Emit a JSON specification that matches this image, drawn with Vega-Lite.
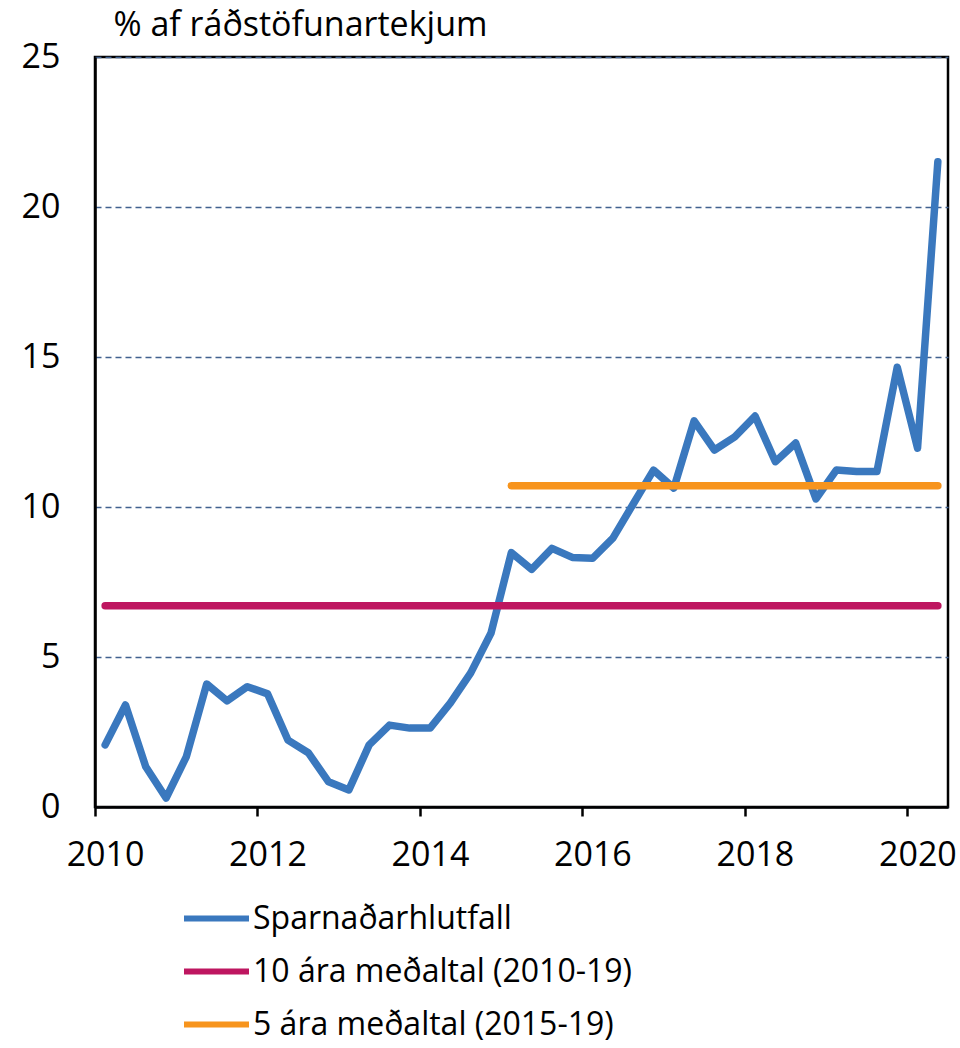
{
  "$schema": "https://vega.github.io/schema/vega-lite/v6.json",
  "width": 853,
  "height": 750,
  "autosize": {"type": "none"},
  "padding": {"left": 95, "top": 57, "right": 12, "bottom": 241},
  "background": "white",
  "config": {
    "view": {"stroke": "black", "strokeWidth": 2.5},
    "font": "Open Sans"
  },
  "data": {
    "values": [
      {"t": 2010.125, "value": 2.07, "series": "Sparnaðarhlutfall"},
      {"t": 2010.375, "value": 3.4, "series": "Sparnaðarhlutfall"},
      {"t": 2010.625, "value": 1.34, "series": "Sparnaðarhlutfall"},
      {"t": 2010.875, "value": 0.3, "series": "Sparnaðarhlutfall"},
      {"t": 2011.125, "value": 1.68, "series": "Sparnaðarhlutfall"},
      {"t": 2011.375, "value": 4.1, "series": "Sparnaðarhlutfall"},
      {"t": 2011.625, "value": 3.54, "series": "Sparnaðarhlutfall"},
      {"t": 2011.875, "value": 4.01, "series": "Sparnaðarhlutfall"},
      {"t": 2012.125, "value": 3.77, "series": "Sparnaðarhlutfall"},
      {"t": 2012.375, "value": 2.23, "series": "Sparnaðarhlutfall"},
      {"t": 2012.625, "value": 1.81, "series": "Sparnaðarhlutfall"},
      {"t": 2012.875, "value": 0.84, "series": "Sparnaðarhlutfall"},
      {"t": 2013.125, "value": 0.57, "series": "Sparnaðarhlutfall"},
      {"t": 2013.375, "value": 2.07, "series": "Sparnaðarhlutfall"},
      {"t": 2013.625, "value": 2.73, "series": "Sparnaðarhlutfall"},
      {"t": 2013.875, "value": 2.63, "series": "Sparnaðarhlutfall"},
      {"t": 2014.125, "value": 2.63, "series": "Sparnaðarhlutfall"},
      {"t": 2014.375, "value": 3.47, "series": "Sparnaðarhlutfall"},
      {"t": 2014.625, "value": 4.47, "series": "Sparnaðarhlutfall"},
      {"t": 2014.875, "value": 5.8, "series": "Sparnaðarhlutfall"},
      {"t": 2015.125, "value": 8.48, "series": "Sparnaðarhlutfall"},
      {"t": 2015.375, "value": 7.92, "series": "Sparnaðarhlutfall"},
      {"t": 2015.625, "value": 8.62, "series": "Sparnaðarhlutfall"},
      {"t": 2015.875, "value": 8.32, "series": "Sparnaðarhlutfall"},
      {"t": 2016.125, "value": 8.29, "series": "Sparnaðarhlutfall"},
      {"t": 2016.375, "value": 8.96, "series": "Sparnaðarhlutfall"},
      {"t": 2016.625, "value": 10.1, "series": "Sparnaðarhlutfall"},
      {"t": 2016.875, "value": 11.23, "series": "Sparnaðarhlutfall"},
      {"t": 2017.125, "value": 10.63, "series": "Sparnaðarhlutfall"},
      {"t": 2017.375, "value": 12.87, "series": "Sparnaðarhlutfall"},
      {"t": 2017.625, "value": 11.9, "series": "Sparnaðarhlutfall"},
      {"t": 2017.875, "value": 12.34, "series": "Sparnaðarhlutfall"},
      {"t": 2018.125, "value": 13.03, "series": "Sparnaðarhlutfall"},
      {"t": 2018.375, "value": 11.51, "series": "Sparnaðarhlutfall"},
      {"t": 2018.625, "value": 12.13, "series": "Sparnaðarhlutfall"},
      {"t": 2018.875, "value": 10.27, "series": "Sparnaðarhlutfall"},
      {"t": 2019.125, "value": 11.23, "series": "Sparnaðarhlutfall"},
      {"t": 2019.375, "value": 11.18, "series": "Sparnaðarhlutfall"},
      {"t": 2019.625, "value": 11.18, "series": "Sparnaðarhlutfall"},
      {"t": 2019.875, "value": 14.66, "series": "Sparnaðarhlutfall"},
      {"t": 2020.125, "value": 11.96, "series": "Sparnaðarhlutfall"},
      {"t": 2020.375, "value": 21.51, "series": "Sparnaðarhlutfall"},
      {"t": 2010.125, "value": 6.71, "series": "10 ára meðaltal (2010-19)"},
      {"t": 2020.375, "value": 6.71, "series": "10 ára meðaltal (2010-19)"},
      {"t": 2015.125, "value": 10.71, "series": "5 ára meðaltal (2015-19)"},
      {"t": 2020.375, "value": 10.71, "series": "5 ára meðaltal (2015-19)"}
    ]
  },
  "mark": {"type": "line", "strokeWidth": 7.5, "strokeCap": "round", "strokeJoin": "round"},
  "encoding": {
    "x": {
      "field": "t",
      "type": "quantitative",
      "scale": {"domain": [2010, 2020.5], "nice": false, "zero": false},
      "axis": {
        "title": null,
        "values": [2010, 2012, 2014, 2016, 2018, 2020],
        "format": "d",
        "grid": false,
        "domainColor": "black",
        "domainWidth": 2.5,
        "tickColor": "black",
        "tickWidth": 2.5,
        "tickSize": 9,
        "labelFlush": false,
        "labelOverlap": false,
        "labelOffset": 10,
        "labelPadding": 22,
        "labelFontSize": 34,
        "labelColor": "black",
        "labelFont": "Open Sans"
      }
    },
    "y": {
      "field": "value",
      "type": "quantitative",
      "scale": {"domain": [0, 25], "nice": false},
      "axis": {
        "values": [0, 5, 10, 15, 20, 25],
        "grid": true,
        "gridDash": [6, 4],
        "gridColor": "#41618F",
        "gridWidth": 1.3,
        "ticks": false,
        "domainColor": "black",
        "domainWidth": 2.5,
        "labelPadding": 35,
        "labelFontSize": 34,
        "labelColor": "black",
        "labelFont": "Open Sans",
        "title": "% af ráðstöfunartekjum",
        "titleAngle": 0,
        "titleAlign": "left",
        "titleBaseline": "alphabetic",
        "titleX": 18,
        "titleY": -22,
        "titleFont": "Open Sans",
        "titleFontSize": 34,
        "titleFontWeight": "normal",
        "titleColor": "black"
      }
    },
    "color": {
      "field": "series",
      "type": "nominal",
      "scale": {
        "domain": ["Sparnaðarhlutfall", "10 ára meðaltal (2010-19)", "5 ára meðaltal (2015-19)"],
        "range": ["#3A78BE", "#BE1660", "#F7941D"]
      },
      "legend": {
        "title": null,
        "orient": "none",
        "legendX": 86,
        "legendY": 826,
        "direction": "vertical",
        "symbolType": "stroke",
        "symbolSize": 4225,
        "symbolStrokeWidth": 6,
        "labelFont": "Open Sans",
        "labelFontSize": 32,
        "labelColor": "black",
        "labelOffset": 1,
        "labelLimit": 700,
        "rowPadding": 1
      }
    }
  }
}
